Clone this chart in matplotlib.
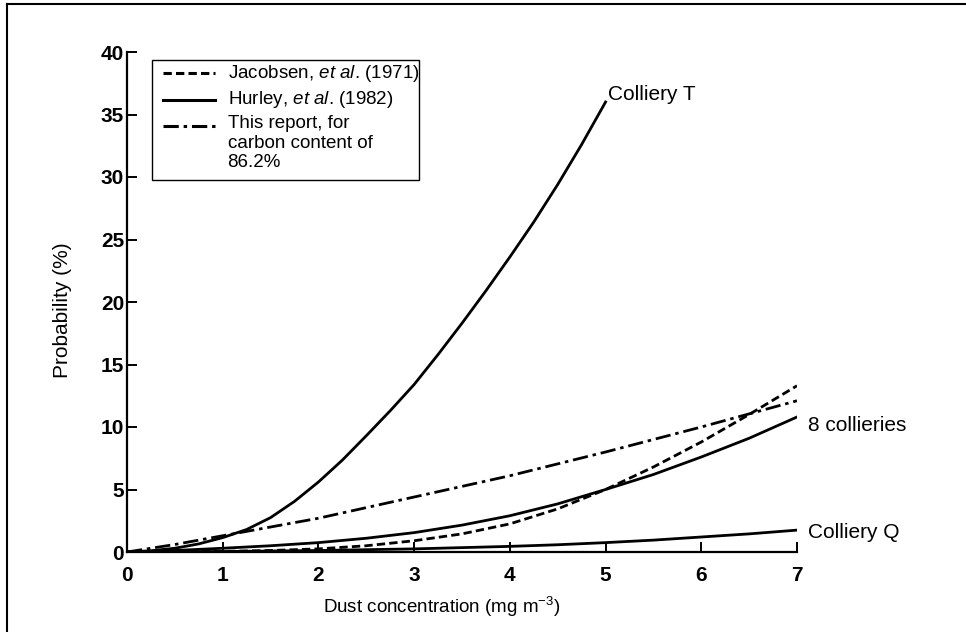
import matplotlib
matplotlib.use("Agg")
import matplotlib.pyplot as plt
from matplotlib.lines import Line2D

plt.rcParams["font.family"] = ["Liberation Sans", "DejaVu Sans"]
plt.rcParams["mathtext.fontset"] = "custom"
plt.rcParams["mathtext.rm"] = "Liberation Sans"
plt.rcParams["mathtext.it"] = "Liberation Sans:italic"
plt.rcParams["lines.scale_dashes"] = False

# Data
# Hurley et al. (1982) - Colliery T
x_t = [0, 0.25, 0.5, 0.75, 1.0, 1.25, 1.5, 1.75, 2.0, 2.25, 2.5, 2.75, 3.0,
       3.25, 3.5, 3.75, 4.0, 4.25, 4.5, 4.75, 5.0]
y_t = [0, 0.1, 0.3, 0.65, 1.15, 1.8, 2.75, 4.05, 5.6, 7.35, 9.3, 11.3, 13.4,
       15.8, 18.3, 20.9, 23.6, 26.4, 29.4, 32.6, 36.0]

# Hurley et al. (1982) - 8 collieries
x_8 = [0, 0.5, 1, 1.5, 2, 2.5, 3, 3.5, 4, 4.5, 5, 5.5, 6, 6.5, 7]
y_8 = [0, 0.12, 0.3, 0.5, 0.75, 1.1, 1.55, 2.15, 2.9, 3.85, 5.0, 6.2, 7.6, 9.1, 10.8]

# Hurley et al. (1982) - Colliery Q
x_q = [0, 1, 2, 3, 4, 4.5, 5, 5.5, 6, 6.5, 7]
y_q = [0, 0.04, 0.12, 0.25, 0.45, 0.58, 0.75, 0.95, 1.2, 1.45, 1.75]

# Jacobsen et al. (1971)
x_j = [0, 0.5, 1, 1.5, 2, 2.5, 3, 3.5, 4, 4.5, 5, 5.5, 6, 6.5, 7]
y_j = [0, 0.01, 0.05, 0.12, 0.25, 0.5, 0.9, 1.45, 2.25, 3.45, 5.0, 6.8, 8.8, 11.0, 13.3]

# This report, carbon content 86.2%
x_r = [0, 0.5, 1, 1.5, 2, 3, 4, 5, 6, 7]
y_r = [0, 0.6, 1.3, 2.0, 2.7, 4.4, 6.1, 8.0, 10.0, 12.1]

curve_labels = ["Colliery T", "8 collieries", "Colliery Q"]
legend_labels = ["Jacobsen, $\\it{et\\ al}$. (1971)",
                 "Hurley, $\\it{et\\ al}$. (1982)",
                 "This report, for\ncarbon content of\n86.2%"]

LW = 2.0
DASHED = (0, (6, 3))
DASHDOT = (0, (11, 3.5, 2.5, 3.5))

fig = plt.figure(figsize=(9.66, 6.32), dpi=100)
ax = fig.add_axes([127 / 966, 1 - 552 / 632, 670 / 966, 500 / 632])

ax.plot(x_t, y_t, color="black", lw=LW)
ax.plot(x_8, y_8, color="black", lw=LW)
ax.plot(x_q, y_q, color="black", lw=LW)
ax.plot(x_j, y_j, color="black", lw=LW, linestyle=DASHED)
ax.plot(x_r, y_r, color="black", lw=LW, linestyle=DASHDOT)

ax.text(5.03, 36.6, curve_labels[0], fontsize=15, va="center", ha="left")
ax.text(7.12, 10.1, curve_labels[1], fontsize=15, va="center", ha="left", clip_on=False)
ax.text(7.12, 1.6, curve_labels[2], fontsize=15, va="center", ha="left", clip_on=False)

ax.set_xlim(0, 7)
ax.set_ylim(0, 40)
ax.set_xticks(range(0, 8))
ax.set_yticks(range(0, 41, 5))
ax.tick_params(direction="in", length=7, width=1.4, labelsize=15)
ax.tick_params(axis="x", pad=10)
ax.tick_params(axis="y", pad=2)
for lab in ax.get_xticklabels() + ax.get_yticklabels():
    lab.set_fontweight("bold")
for s in ["top", "right"]:
    ax.spines[s].set_visible(False)
for s in ["left", "bottom"]:
    ax.spines[s].set_linewidth(1.6)

ax.set_xlabel("Dust concentration (mg m$^{-3}$)", fontsize=13.5)
ax.xaxis.set_label_coords(0.469, -0.086)
ax.set_ylabel("Probability (%)", fontsize=15)
ax.yaxis.set_label_coords(-0.082, 0.484)

# Legend drawn by hand to match the boxed layout
box = plt.Rectangle((0.037, 0.744), 0.399, 0.240, transform=ax.transAxes,
                    fill=False, edgecolor="black", lw=1.0)
ax.add_patch(box)
rows_y = [0.958, 0.904, 0.853]
styles = [DASHED, "-", DASHDOT]
for yy, ls, lab in zip(rows_y, styles, legend_labels):
    ax.add_line(Line2D([0.054, 0.131], [yy, yy], transform=ax.transAxes,
                       color="black", lw=2.2, linestyle=ls))
    ax.text(0.150, yy + 0.021, lab, transform=ax.transAxes, fontsize=13.5,
            va="top", ha="left", linespacing=1.2)

# Frame lines at top and left of the figure
fig.add_artist(Line2D([7 / 966, 7 / 966], [0, 1 - 4 / 632], transform=fig.transFigure, color="black", lw=1.5))
fig.add_artist(Line2D([7 / 966, 1], [1 - 4 / 632, 1 - 4 / 632], transform=fig.transFigure, color="black", lw=1.5))

fig.savefig("out.png", dpi=100)
